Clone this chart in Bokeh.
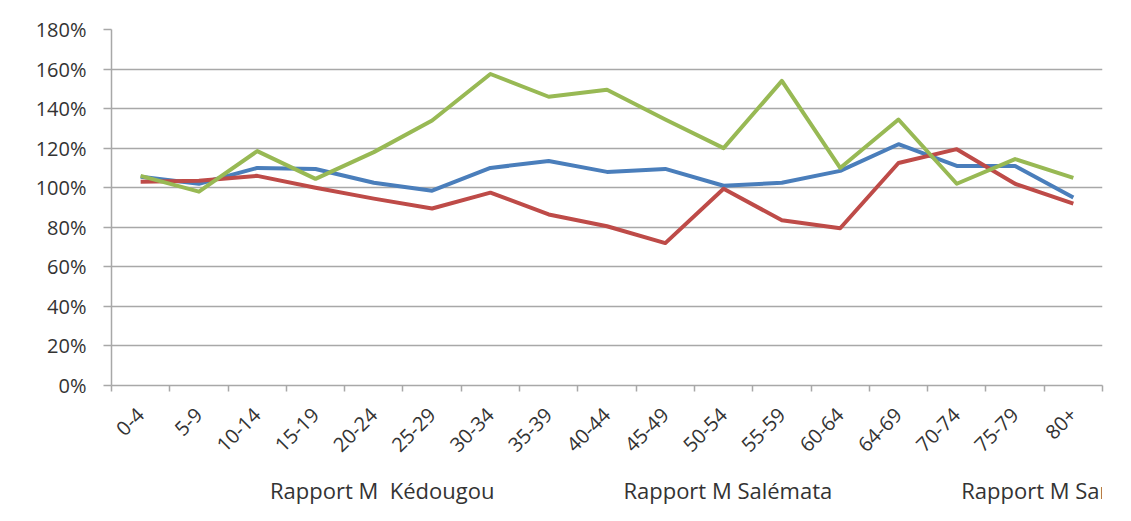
from bokeh.plotting import figure
from bokeh.layouts import column
from bokeh.models import (Range1d, LinearAxis, CategoricalAxis, FixedTicker,
                          SingleIntervalTicker, PrintfTickFormatter, Legend, LegendItem)
from bokeh.embed import file_html
from bokeh.resources import INLINE
from math import pi

categories = ["0-4", "5-9", "10-14", "15-19", "20-24", "25-29", "30-34", "35-39",
              "40-44", "45-49", "50-54", "55-59", "60-64", "64-69", "70-74", "75-79", "80+"]
kedougou = [105.5, 102, 110, 109.5, 102.5, 98.5, 110, 113.5, 108, 109.5, 101, 102.5,
            108.5, 122, 111, 111, 95]
salemata = [103, 103.5, 106, 100, 94.5, 89.5, 97.5, 86.5, 80.5, 72, 99.5, 83.5,
            79.5, 112.5, 119.5, 102, 92]
saraya = [106, 98, 118.5, 104.5, 118, 134, 157.5, 146, 149.5, 134.5, 120, 154,
          110, 134.5, 102, 114.5, 105]
series_names = ["Rapport M  Kédougou", "Rapport M Salémata", "Rapport M Saraya"]
colors = ["#4a7ebb", "#be4b48", "#98b954"]

FONT = "Open Sans"
TXT = "#333333"
GRID = "#a8a8a8"

p = figure(x_range=categories, y_range=Range1d(0, 180), width=1115, height=475,
           x_axis_location=None, output_backend="svg", toolbar_location=None,
           min_border_left=111, min_border_right=13, min_border_top=29,
           min_border_bottom=90)
p.outline_line_color = None
p.xgrid.visible = False

# y axis
yax = p.yaxis[0]
yax.ticker = SingleIntervalTicker(interval=20)
yax.formatter = PrintfTickFormatter(format="%d%%")
yax.axis_line_color = GRID
yax.axis_line_width = 1.5
yax.major_tick_line_color = GRID
yax.major_tick_line_width = 1.5
yax.major_tick_out = 8
yax.major_tick_in = 0
yax.minor_tick_line_color = None
yax.major_label_standoff = 17
yax.major_label_text_font = FONT
yax.major_label_text_font_size = "20px"
yax.major_label_text_color = TXT
p.ygrid.grid_line_color = GRID
p.ygrid.grid_line_width = 1.5

# x axis: ticks on category boundaries (synthetic coordinates 0..N), drawn as minor ticks
tax = LinearAxis(ticker=FixedTicker(ticks=[], minor_ticks=list(range(len(categories) + 1))))
tax.axis_line_color = GRID
tax.axis_line_width = 1.5
tax.major_tick_line_color = None
tax.major_tick_out = 6
tax.major_tick_in = 0
tax.minor_tick_line_color = GRID
tax.minor_tick_line_width = 1.5
tax.minor_tick_out = 6
tax.minor_tick_in = 0
tax.major_label_standoff = 0
p.add_layout(tax, "below")

cax = CategoricalAxis()
cax.axis_line_color = None
cax.major_tick_line_color = None
cax.major_tick_out = 0
cax.major_tick_in = 0
cax.major_label_orientation = pi / 4
cax.major_label_standoff = 20
cax.major_label_text_font = FONT
cax.major_label_text_font_size = "20px"
cax.major_label_text_color = TXT
p.add_layout(cax, "below")

for vals, c in zip([kedougou, salemata, saraya], colors):
    p.line(x=categories, y=vals, line_color=c, line_width=4, line_join="round")

# legend strip below the chart
f2 = figure(width=1115, height=30, x_range=Range1d(0, 1), y_range=Range1d(0, 1),
            x_axis_location=None, y_axis_location=None, toolbar_location=None,
            output_backend="svg", min_border=0, min_border_left=0, min_border_right=0,
            min_border_top=0, min_border_bottom=0)
f2.outline_line_color = None
f2.xgrid.visible = False
f2.ygrid.visible = False
legend_renderers = [f2.line(x=[], y=[], line_color=c, line_width=4) for c in colors]

legend = Legend(items=[LegendItem(label=n, renderers=[r]) for n, r in zip(series_names, legend_renderers)],
                orientation="horizontal", location=(90, 0))
legend.padding = 0
legend.margin = 0
legend.spacing = 60
legend.border_line_color = None
legend.background_fill_alpha = 0
legend.glyph_width = 64
legend.glyph_height = 30
legend.label_height = 30
legend.label_standoff = 5
legend.label_text_font = FONT
legend.label_text_font_size = "22px"
legend.label_text_color = TXT
f2.add_layout(legend, "center")

layout = column(p, f2)
open("out.html", "w").write(file_html(layout, INLINE))
